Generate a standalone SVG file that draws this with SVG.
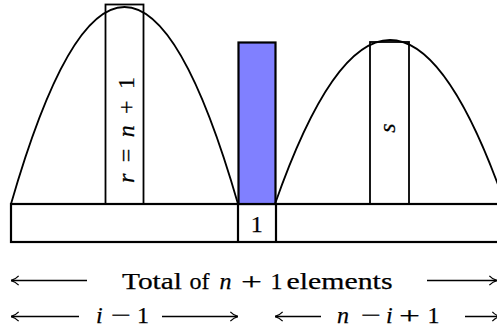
<svg xmlns="http://www.w3.org/2000/svg" width="497" height="334" viewBox="0 0 497 334">
<style>
.ln{fill:none;stroke:#000;stroke-width:1.8}
.bar{fill:none;stroke:#000;stroke-width:2.2}
.t{font-family:"Liberation Serif","Times New Roman",serif;font-size:24px;fill:#000;stroke:#000;stroke-width:0.25}
.it{font-style:italic}
.arr{fill:none;stroke:#000;stroke-width:1.5;marker-end:url(#ah)}
</style>
<defs>
<marker id="ah" viewBox="0 0 10 12" refX="9.5" refY="6" markerWidth="9" markerHeight="11" markerUnits="userSpaceOnUse" orient="auto">
<path d="M1,0.8 Q5,5 9.5,6 Q5,7 1,11.2" fill="none" stroke="#000" stroke-width="1.4"/>
</marker>
</defs>
<rect width="497" height="334" fill="#fff"/>
<g id="bottom-bar">
<rect class="bar" x="11" y="204" width="500" height="38"/>
<line class="bar" x1="238" y1="204" x2="238" y2="242"/>
<line class="bar" x1="276" y1="204" x2="276" y2="242"/>
<text class="t" x="256.7" y="231.7" text-anchor="middle">1</text>
</g>
<g id="left-heap">
<path class="ln" d="M11,204 Q124.5,-190 238,204"/>
<rect class="ln" x="105.5" y="4.5" width="38" height="199.5"/>
<text class="t" transform="translate(134,130) rotate(-90)" text-anchor="middle" textLength="106" lengthAdjust="spacing"><tspan class="it">r</tspan> = <tspan class="it">n</tspan> + 1</text>
</g>
<g id="pivot">
<rect x="238.5" y="42.5" width="37" height="161.5" fill="#8080ff" stroke="#000" stroke-width="2.2"/>
</g>
<g id="right-heap">
<path class="ln" d="M275,204 Q390,-124 505,204"/>
<rect class="ln" x="370" y="42" width="39" height="162"/>
<text class="t it" transform="translate(395,128) rotate(-90)" text-anchor="middle">s</text>
</g>
<g id="labels">
<text class="t" y="289"><tspan x="122" textLength="60" lengthAdjust="spacingAndGlyphs">Total</tspan> <tspan x="189.5">of</tspan> <tspan x="219.5" class="it">n</tspan> <tspan x="241" textLength="21" lengthAdjust="spacingAndGlyphs">+</tspan> <tspan x="270.5">1</tspan> <tspan x="286.5" textLength="106" lengthAdjust="spacingAndGlyphs">elements</tspan></text>
<text class="t" y="323"><tspan x="96" class="it">i</tspan> <tspan x="111" textLength="20" lengthAdjust="spacingAndGlyphs">−</tspan> <tspan x="137">1</tspan></text>
<text class="t" y="323"><tspan x="337" class="it">n</tspan> <tspan x="361" textLength="20" lengthAdjust="spacingAndGlyphs">−</tspan> <tspan x="386" class="it">i</tspan> <tspan x="399" textLength="21" lengthAdjust="spacingAndGlyphs">+</tspan> <tspan x="427.5">1</tspan></text>
</g>
<g id="connectors">
<line class="arr" x1="87" y1="280.5" x2="11" y2="280.5"/>
<line class="arr" x1="427" y1="280.5" x2="497" y2="280.5"/>
<line class="arr" x1="79" y1="316.5" x2="11" y2="316.5"/>
<line class="arr" x1="162" y1="316.5" x2="238" y2="316.5"/>
<line class="arr" x1="321" y1="316.5" x2="275" y2="316.5"/>
<line class="arr" x1="465" y1="316.5" x2="500" y2="316.5"/>
</g>
</svg>
